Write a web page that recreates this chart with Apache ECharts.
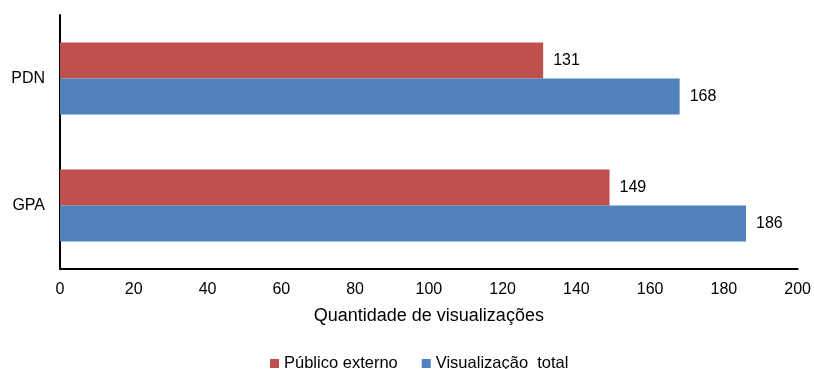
<!DOCTYPE html>
<html>
<head>
<meta charset="utf-8">
<script src="https://cdn.jsdelivr.net/npm/echarts@6/dist/echarts.min.js"></script>
<style>
  html, body { margin: 0; padding: 0; background: #fff; }
  #container { width: 814px; height: 369px; }
</style>
</head>
<body>
<div id="container"></div>
<script>
// categorias de baixo para cima
var categorias = ['GPA', 'PDN'];
var publicoExterno = [149, 131];
var visualizacaoTotal = [186, 168];
var xTicks = [0, 200, 20];

var dom = document.getElementById('container');
var myChart = echarts.init(dom);

var fonte = 'Liberation Sans, Arial, sans-serif';
var rotulo = {
    show: true,
    position: 'right',
    distance: 10,
    color: '#000',
    fontSize: 16,
    fontFamily: fonte
};

myChart.setOption({
    animation: false,
    grid: { left: 60, right: 14, top: 15, bottom: 100, containLabel: false },
    legend: {
        top: 355,
        left: 270,
        padding: 0,
        itemWidth: 9,
        itemHeight: 9,
        itemGap: 24,
        icon: 'rect',
        textStyle: { fontSize: 16.5, color: '#000', fontFamily: fonte }
    },
    xAxis: {
        type: 'value',
        min: xTicks[0],
        max: xTicks[1],
        interval: xTicks[2],
        name: 'Quantidade de visualizações',
        nameLocation: 'middle',
        nameGap: 38,
        nameTextStyle: { fontSize: 18, color: '#000', fontFamily: fonte },
        axisLine: { show: true, lineStyle: { color: '#000', width: 2 } },
        axisTick: { show: false },
        splitLine: { show: false },
        axisLabel: { fontSize: 16, color: '#000', margin: 13, fontFamily: fonte }
    },
    yAxis: {
        type: 'category',
        data: categorias,
        axisLine: { show: true, lineStyle: { color: '#000', width: 2 } },
        axisTick: { show: false },
        axisLabel: { fontSize: 16, color: '#000', margin: 15, fontFamily: fonte }
    },
    series: [
        {
            name: 'Público externo',
            type: 'bar',
            data: publicoExterno,
            barWidth: 36,
            barGap: '0%',
            itemStyle: { color: '#C0504D' },
            label: rotulo
        },
        {
            name: 'Visualização  total',
            type: 'bar',
            data: visualizacaoTotal,
            barWidth: 36,
            barGap: '0%',
            itemStyle: { color: '#4F81BD' },
            label: rotulo
        }
    ]
});
</script>
</body>
</html>
